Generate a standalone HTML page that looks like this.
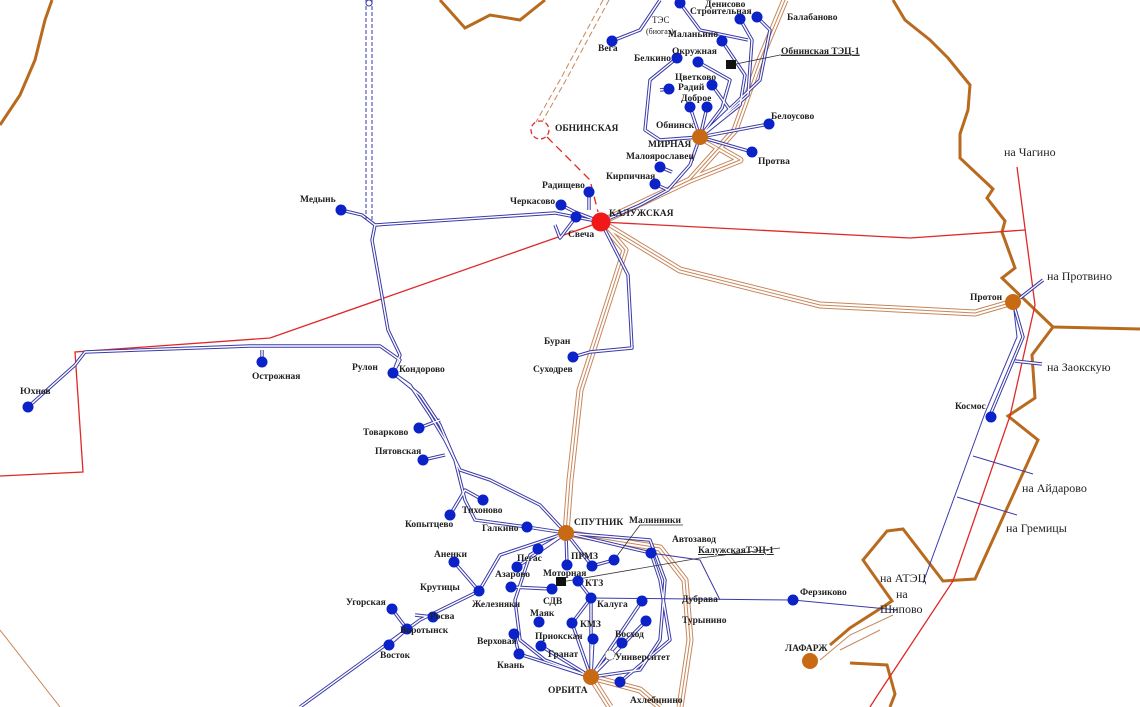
<!DOCTYPE html>
<html><head><meta charset="utf-8"><style>
html,body{margin:0;padding:0;background:#fff}
svg{display:block}
text{font-family:"Liberation Serif",serif;font-size:9.5px;font-weight:bold;fill:#222}
.n{font-weight:normal;font-size:12px}
</style></head><body>
<svg width="1140" height="707" viewBox="0 0 1140 707" xmlns="http://www.w3.org/2000/svg">
<defs>
<g id="bl" fill="none" stroke-linejoin="round">
<path d="M341,210 L362,215 L375,225 L372,240 L388,330 L400,355 L393,373"/>
<path d="M375,225 L555,213 L601,222"/>
<path d="M28,407 L75,365 L85,352 L250,346 L380,346 L400,360 L393,373"/>
<path d="M262,362 L262,350"/>
<path d="M393,373 L410,385 L430,415 L445,440 L460,470 L490,480 L540,505 L566,533"/>
<path d="M393,373 L420,395 L440,425 L455,460 L465,500 L475,520 L527,527 L566,533"/>
<path d="M419,428 L440,420 M423,460 L445,455 M450,515 L465,490 L483,500"/>
<path d="M601,222 L628,275 L632,348 L590,352 L573,357"/>
<path d="M601,222 L575,212 L561,205 M589,192 L589,210 M576,217 L560,238 L555,225"/>
<path d="M601,222 L640,205 L668,190 L690,165 L700,137 M655,184 L668,190 M660,167 L672,172"/>
<path d="M700,137 L690,107 M700,137 L707,107 M700,137 L730,110 L712,85 M700,137 L722,108 L730,80 L698,62 M700,137 L740,105 L745,75 L722,41 M700,137 L748,95 L752,40 L740,19 M700,137 L760,80 L770,30 L757,17 M700,137 L769,124 M700,137 L752,152"/>
<path d="M612,41 L640,30 L660,0 M680,3 L700,30 L748,40 M677,58 L650,80 L645,130 L660,140 L700,137 M669,89 L660,90"/>
<path d="M566,533 L530,555 L515,600 L520,640 L545,660 L591,677 L640,670 L660,640 L665,580 L650,540 L566,533"/>
<path d="M566,533 L500,555 L479,591 L420,620 L300,707"/>
<path d="M454,562 L479,591 M392,609 L407,629 L389,645 M433,617 L415,615"/>
<path d="M566,533 L538,549 M566,533 L517,567 M566,533 L567,565 M566,533 L592,566 L614,560 M566,533 L651,553 L660,580 L670,640 L620,682"/>
<path d="M591,677 L591,598 L578,581 M591,677 L572,623 L591,598 M591,677 L642,601 M591,677 L646,621 M591,677 L622,643 M591,677 L593,639 M591,677 L541,646 M591,677 L519,654 L514,634 M511,587 L552,589"/>
<path d="M1013,302 L1023,337 L991,413 M1020,298 L1043,280 M1015,361 L1042,364"/>
</g>
<g id="br" fill="none" stroke-linejoin="round">
<path d="M601,222 L690,180 L735,130 L760,60 L785,0"/>
<path d="M700,137 L740,160 L690,180"/>
<path d="M601,222 L680,270 L820,305 L975,313 L1013,302"/>
<path d="M601,222 L625,250 L580,390 L570,480 L566,533"/>
<path d="M566,533 L660,548 L685,580 L690,640 L680,707 M591,677 L640,690 L660,707 M591,677 L610,707"/>
</g>
</defs>
<!-- borders -->
<g fill="none" stroke="#b86a1e" stroke-width="3" stroke-linejoin="miter">
<path d="M0,125 L20,95 L35,60 L45,20 L52,0"/>
<path d="M440,0 L465,28 L490,15 L520,20 L545,0"/>
<path d="M893,0 L905,20 L930,40 L948,58 L970,85 L968,110 L960,134 L960,158 L993,189 L987,198 L1005,221 L1002,232 L1015,268 L1002,278 L1053,327 L1140,329"/>
<path d="M1053,327 L1032,355 L1035,398 L1008,416 L1038,440 L975,579 L943,581 L903,529 L887,531 L863,560 L892,601 L850,628 L830,645"/>
<path d="M850,663 L887,665 L895,694 L890,707"/>
</g>
<!-- red -->
<g fill="none" stroke="#e02828" stroke-width="1.3">
<path d="M601,222 L910,238 L1025,230"/>
<path d="M1017,167 L1035,305 L1010,416 L953,581 L877,696 L870,707"/>
<path d="M601,222 L270,338 L75,352 L83,472 L0,476"/>
<path d="M547,137 L590,180 L598,212" stroke-dasharray="8,5"/>
<circle cx="540" cy="130" r="9" stroke-dasharray="5,3"/>
</g>
<!-- brown triple -->
<use href="#br" stroke="#c8865a" stroke-width="7"/>
<use href="#br" stroke="#fff" stroke-width="5"/>
<use href="#br" stroke="#c8865a" stroke-width="1"/>
<g fill="none" stroke="#c8865a" stroke-width="1">
<path d="M0,630 L60,707"/>
<path d="M893,615 L850,635 L820,660 M880,630 L840,650"/>
<path d="M603,0 L560,80 L536,122 M609,0 L566,80 L542,122" stroke-dasharray="6,3"/>
</g>
<!-- blue double -->
<use href="#bl" stroke="#3a3aa8" stroke-width="3.4"/>
<use href="#bl" stroke="#fff" stroke-width="1.4"/>
<g fill="none" stroke="#3a3aa8" stroke-width="1">
<path d="M366,0 L366,220 M372,0 L372,220" stroke-dasharray="4,2"/>
<circle cx="369" cy="3" r="3" fill="#fff"/>
<path d="M1013,302 L1017,337 L985,413 L923,583"/>
<path d="M973,456 L1033,474 M957,497 L1017,515"/>
<path d="M591,598 L793,600 L898,610"/>
<path d="M651,553 L700,560 L720,600"/>
</g>
<g stroke="#333" stroke-width="0.8" fill="none">
<path d="M614,560 L640,525 L683,525 M561,582 L700,558 L780,548 M731,65 L780,55 L860,55"/>
</g>
<!-- nodes -->
<g fill="#0a22c8">
<circle cx="612" cy="41" r="5.5"/><circle cx="680" cy="3" r="5.5"/><circle cx="740" cy="19" r="5.5"/><circle cx="757" cy="17" r="5.5"/>
<circle cx="722" cy="41" r="5.5"/><circle cx="677" cy="58" r="5.5"/><circle cx="698" cy="62" r="5.5"/><circle cx="669" cy="89" r="5.5"/>
<circle cx="712" cy="85" r="5.5"/><circle cx="690" cy="107" r="5.5"/><circle cx="707" cy="107" r="5.5"/><circle cx="769" cy="124" r="5.5"/>
<circle cx="752" cy="152" r="5.5"/><circle cx="660" cy="167" r="5.5"/><circle cx="655" cy="184" r="5.5"/><circle cx="589" cy="192" r="5.5"/>
<circle cx="561" cy="205" r="5.5"/><circle cx="576" cy="217" r="5.5"/><circle cx="341" cy="210" r="5.5"/><circle cx="573" cy="357" r="5.5"/>
<circle cx="28" cy="407" r="5.5"/><circle cx="262" cy="362" r="5.5"/><circle cx="393" cy="373" r="5.5"/><circle cx="419" cy="428" r="5.5"/>
<circle cx="423" cy="460" r="5.5"/><circle cx="450" cy="515" r="5.5"/><circle cx="483" cy="500" r="5.5"/><circle cx="527" cy="527" r="5.5"/>
<circle cx="538" cy="549" r="5.5"/><circle cx="517" cy="567" r="5.5"/><circle cx="567" cy="565" r="5.5"/><circle cx="592" cy="566" r="5.5"/>
<circle cx="614" cy="560" r="5.5"/><circle cx="651" cy="553" r="5.5"/><circle cx="454" cy="562" r="5.5"/><circle cx="511" cy="587" r="5.5"/>
<circle cx="552" cy="589" r="5.5"/><circle cx="578" cy="581" r="5.5"/><circle cx="479" cy="591" r="5.5"/><circle cx="591" cy="598" r="5.5"/>
<circle cx="642" cy="601" r="5.5"/><circle cx="392" cy="609" r="5.5"/><circle cx="433" cy="617" r="5.5"/><circle cx="407" cy="629" r="5.5"/>
<circle cx="389" cy="645" r="5.5"/><circle cx="539" cy="622" r="5.5"/><circle cx="572" cy="623" r="5.5"/><circle cx="646" cy="621" r="5.5"/>
<circle cx="514" cy="634" r="5.5"/><circle cx="593" cy="639" r="5.5"/><circle cx="622" cy="643" r="5.5"/><circle cx="541" cy="646" r="5.5"/>
<circle cx="519" cy="654" r="5.5"/><circle cx="620" cy="682" r="5.5"/><circle cx="793" cy="600" r="5.5"/><circle cx="991" cy="417" r="5.5"/>
</g>
<circle cx="610" cy="655" r="5" fill="#fff" stroke="#555" stroke-width="0.8" stroke-dasharray="2,1"/>
<g fill="#c86a14">
<circle cx="700" cy="137" r="8"/><circle cx="1013" cy="302" r="8"/><circle cx="566" cy="533" r="8"/><circle cx="591" cy="677" r="8"/><circle cx="810" cy="661" r="8"/>
</g>
<circle cx="601" cy="222" r="9.5" fill="#f01818"/>
<rect x="556" y="577" width="10" height="9" fill="#111"/><rect x="726" y="60" width="10" height="9" fill="#111"/>
<!-- labels -->
<text x="598" y="51">Вега</text><text x="652" y="23" class="n" style="font-size:9px">ТЭС</text><text x="646" y="34" class="n" style="font-size:8px">(биогаз)</text>
<text x="705" y="7">Денисово</text><text x="690" y="14">Строительная</text><text x="787" y="20">Балабаново</text>
<text x="668" y="37">Маланьино</text><text x="672" y="54">Окружная</text><text x="781" y="54" style="text-decoration:underline">Обнинская ТЭЦ-1</text>
<text x="634" y="61">Белкино</text><text x="675" y="80">Цветково</text><text x="678" y="90">Радий</text><text x="681" y="101">Доброе</text>
<text x="656" y="128">Обнинск</text><text x="771" y="119">Белоусово</text><text x="555" y="131">ОБНИНСКАЯ</text><text x="648" y="147">МИРНАЯ</text>
<text x="626" y="159">Малоярославец</text><text x="758" y="164">Протва</text><text x="606" y="179">Кирпичная</text><text x="542" y="188">Радищево</text>
<text x="510" y="204">Черкасово</text><text x="609" y="216">КАЛУЖСКАЯ</text><text x="568" y="237">Свеча</text><text x="300" y="202">Медынь</text>
<text x="1004" y="156" class="n">на Чагино</text><text x="970" y="300">Протон</text><text x="1047" y="280" class="n">на Протвино</text>
<text x="1047" y="371" class="n">на Заокскую</text><text x="955" y="409">Космос</text><text x="1022" y="492" class="n">на Айдарово</text>
<text x="1006" y="532" class="n">на Гремицы</text><text x="880" y="582" class="n">на АТЭЦ</text><text x="896" y="598" class="n">на</text><text x="880" y="613" class="n">Шипово</text>
<text x="800" y="595">Ферзиково</text><text x="785" y="651">ЛАФАРЖ</text><text x="544" y="344">Буран</text><text x="533" y="372">Суходрев</text>
<text x="20" y="394">Юхнов</text><text x="252" y="379">Острожная</text><text x="352" y="370">Рулон</text><text x="399" y="372">Кондорово</text>
<text x="363" y="435">Товарково</text><text x="375" y="454">Пятовская</text><text x="462" y="513">Тихоново</text><text x="405" y="527">Копытцево</text>
<text x="482" y="531">Галкино</text><text x="574" y="525">СПУТНИК</text><text x="629" y="523">Малинники</text><text x="672" y="542">Автозавод</text>
<text x="698" y="553" style="text-decoration:underline">КалужскаяТЭЦ-1</text><text x="571" y="559">ПРМЗ</text><text x="517" y="561">Пегас</text>
<text x="434" y="557">Аненки</text><text x="495" y="577">Азарово</text><text x="543" y="576">Моторная</text><text x="585" y="586">КТЗ</text>
<text x="420" y="590">Крутицы</text><text x="543" y="604">СДВ</text><text x="472" y="607">Железняки</text><text x="597" y="607">Калуга</text>
<text x="682" y="602">Дубрава</text><text x="346" y="605">Угорская</text><text x="430" y="619">Росва</text><text x="400" y="633">Воротынск</text>
<text x="530" y="616">Маяк</text><text x="580" y="627">КМЗ</text><text x="682" y="623">Турынино</text><text x="535" y="639">Приокская</text>
<text x="615" y="637">Восход</text><text x="477" y="644">Верховая</text><text x="380" y="658">Восток</text><text x="548" y="657">Гранат</text>
<text x="615" y="660">Университет</text><text x="497" y="668">Квань</text><text x="548" y="693">ОРБИТА</text><text x="630" y="703">Ахлебинино</text>
</svg>
</body></html>
